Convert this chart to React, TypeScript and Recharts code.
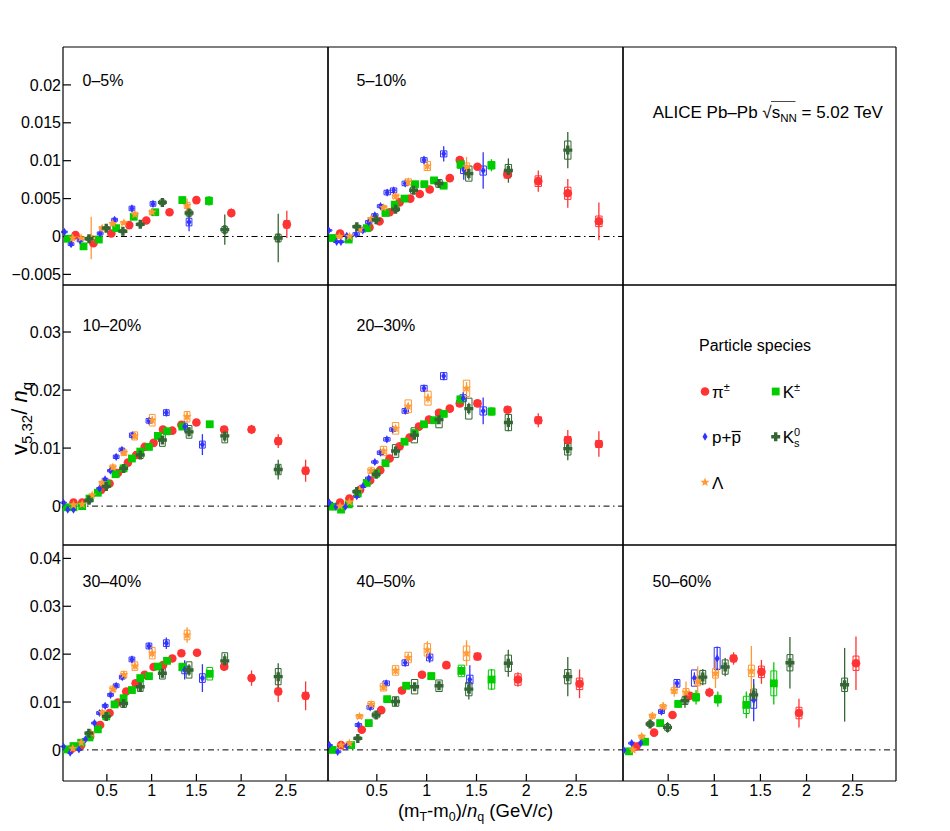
import React from 'react';
import { ScatterChart, Scatter, XAxis, YAxis, ErrorBar, ReferenceLine, ReferenceArea, Legend } from 'recharts';

// each point: [x, value, stat. error, syst. error]
type Pt = [number, number, number, number];

// ---------- 0-5% ----------
const PI_A: Pt[] = [[0.15,0.0002,0.0004,0.0002],[0.35,-0.0009,0.0004,0.0002],[0.55,0.0004,0.0003,0.0002],[0.75,0.0015,0.0003,0.0002],[0.94,0.0021,0.0003,0.0002],[1.2,0.0032,0.0003,0.0003],[1.5,0.0048,0.0003,0.0003],[1.89,0.0031,0.0006,0.0004],[2.51,0.0016,0.0018,0.0005]];
const K_A: Pt[] = [[0.063,-0.0003,0.0003,0.0002],[0.239,-0.0013,0.0004,0.0002],[0.41,-0.0004,0.0003,0.0002],[0.604,0.0011,0.0003,0.0002],[0.8,0.0026,0.0003,0.0003],[1.04,0.0032,0.0003,0.0003],[1.343,0.0048,0.0004,0.0004],[1.64,0.0047,0.0006,0.0005]];
const P_A: Pt[] = [[0.026,0.0006,0.0003,0.0001],[0.1,-0.001,0.0004,0.0002],[0.2,-0.0005,0.0003,0.0002],[0.425,0.0004,0.0003,0.0002],[0.586,0.0022,0.0003,0.0002],[0.78,0.0037,0.0004,0.0003],[1.015,0.0043,0.0004,0.0003],[1.418,0.0019,0.0012,0.0005]];
const L_A: Pt[] = [[0.119,-0.0002,0.0008,0.0002],[0.213,-0.0002,0.0004,0.0002],[0.325,-0.0002,0.0028,0.0003],[0.448,0.0011,0.0004,0.0002],[0.567,0.0017,0.0003,0.0002],[0.69,0.0018,0.0003,0.0002],[0.813,0.0029,0.0004,0.0003],[1.007,0.0032,0.0005,0.0003],[1.396,0.0041,0.0009,0.0004]];
const K0_A: Pt[] = [[0.3,-0.0003,0.0003,0.0002],[0.493,0.0011,0.0003,0.0002],[0.679,0.0007,0.0003,0.0002],[0.873,0.0016,0.0003,0.0002],[1.12,0.0045,0.0004,0.0003],[1.418,0.0031,0.0005,0.0004],[1.817,0.0009,0.002,0.0004],[2.414,-0.0002,0.0032,0.0005]];

// ---------- 5-10% ----------
const PI_B: Pt[] = [[0.131,0.0004,0.0003,0.0002],[0.426,0.0012,0.0003,0.0002],[0.527,0.002,0.0003,0.0002],[0.628,0.0032,0.0003,0.0002],[0.728,0.0045,0.0003,0.0002],[0.836,0.005,0.0003,0.0002],[0.93,0.0056,0.0003,0.0003],[1.03,0.0062,0.0003,0.0003],[1.232,0.0077,0.0003,0.0003],[1.332,0.0101,0.0003,0.0003],[1.51,0.0092,0.0004,0.0003],[1.81,0.0082,0.0006,0.0005],[2.12,0.0073,0.0014,0.0007],[2.416,0.0057,0.0019,0.0008],[2.728,0.002,0.0025,0.0007]];
const K_B: Pt[] = [[0.057,-0.0002,0.0003,0.0002],[0.218,-0.0004,0.0003,0.0002],[0.4,0.0011,0.0003,0.0002],[0.587,0.0031,0.0003,0.0002],[0.68,0.0042,0.0003,0.0002],[0.778,0.005,0.0003,0.0002],[0.883,0.0069,0.0003,0.0003],[0.977,0.0069,0.0003,0.0003],[1.074,0.0074,0.0003,0.0003],[1.17,0.0067,0.0004,0.0003],[1.34,0.0095,0.0004,0.0005],[1.65,0.0094,0.0008,0.0005]];
const P_B: Pt[] = [[0.017,0.0008,0.0003,0.0001],[0.097,-0.0007,0.0003,0.0001],[0.14,-0.0007,0.0003,0.0001],[0.198,0.0001,0.0003,0.0001],[0.292,0.0003,0.0003,0.0002],[0.359,0.0008,0.0003,0.0002],[0.419,0.0019,0.0003,0.0002],[0.48,0.0028,0.0003,0.0002],[0.537,0.004,0.0003,0.0002],[0.604,0.0058,0.0004,0.0003],[0.668,0.0061,0.0004,0.0003],[0.785,0.007,0.0004,0.0003],[0.973,0.0101,0.0005,0.0003],[1.171,0.0109,0.001,0.0004],[1.372,0.0088,0.0013,0.0005],[1.567,0.0087,0.0024,0.0006]];
const L_B: Pt[] = [[0.124,0,0.0003,0.0002],[0.225,0,0.0003,0.0002],[0.332,0.001,0.0004,0.0002],[0.443,0.0023,0.0004,0.0002],[0.567,0.0038,0.0004,0.0003],[0.688,0.0053,0.0004,0.0003],[0.815,0.0072,0.0005,0.0004],[1.007,0.0093,0.0006,0.0006],[1.4,0.0092,0.0013,0.0005]];
const K0_B: Pt[] = [[0.299,0.0013,0.0003,0.0002],[0.493,0.0022,0.0003,0.0002],[0.688,0.0036,0.0004,0.0003],[0.869,0.0061,0.0004,0.0004],[1.124,0.007,0.0005,0.0005],[1.423,0.0083,0.0008,0.001],[1.82,0.0087,0.0016,0.0008],[2.416,0.0114,0.0024,0.0012]];

// ---------- 10-20% ----------
const PI_C: Pt[] = [[0.127,0.0006,0.0003,0.0002],[0.224,0.0006,0.0003,0.0002],[0.437,0.0028,0.0003,0.0002],[0.53,0.0039,0.0003,0.0002],[0.623,0.0057,0.0003,0.0003],[0.735,0.0075,0.0003,0.0003],[0.828,0.0088,0.0003,0.0003],[0.922,0.0102,0.0003,0.0003],[1.022,0.0109,0.0003,0.0004],[1.127,0.0132,0.0003,0.0004],[1.231,0.013,0.0004,0.0004],[1.332,0.014,0.0004,0.0004],[1.5,0.0144,0.0005,0.0004],[1.81,0.0132,0.0006,0.0005],[2.116,0.0132,0.0008,0.0005],[2.414,0.0112,0.0012,0.0006],[2.72,0.0061,0.0019,0.0006]];
const K_C: Pt[] = [[0.037,-0.0002,0.0003,0.0001],[0.127,-0.0002,0.0003,0.0001],[0.224,0,0.0003,0.0002],[0.306,0.0013,0.0003,0.0002],[0.399,0.0023,0.0003,0.0002],[0.5,0.0038,0.0003,0.0002],[0.597,0.0055,0.0003,0.0003],[0.687,0.0065,0.0003,0.0003],[0.78,0.0082,0.0003,0.0003],[0.873,0.0094,0.0003,0.0003],[0.97,0.0102,0.0003,0.0004],[1.07,0.0121,0.0004,0.0004],[1.172,0.0129,0.0004,0.0004],[1.343,0.0137,0.0004,0.0005],[1.649,0.0141,0.0005,0.0005]];
const P_C: Pt[] = [[0.015,0.0006,0.0003,0.0001],[0.063,-0.0006,0.0003,0.0001],[0.127,-0.0006,0.0003,0.0001],[0.313,0.001,0.0003,0.0002],[0.418,0.003,0.0003,0.0002],[0.48,0.0046,0.0003,0.0002],[0.54,0.0061,0.0004,0.0002],[0.604,0.0085,0.0004,0.0003],[0.668,0.0097,0.0004,0.0003],[0.784,0.0122,0.0005,0.0004],[0.97,0.0147,0.0005,0.0004],[1.164,0.0161,0.0006,0.0005],[1.369,0.0137,0.0009,0.0005],[1.567,0.0106,0.0018,0.0006]];
const L_C: Pt[] = [[0.127,0.0002,0.0003,0.0002],[0.224,0.0003,0.0003,0.0002],[0.336,0.0019,0.0003,0.0002],[0.448,0.004,0.0004,0.0003],[0.567,0.0067,0.0004,0.0004],[0.69,0.0092,0.0005,0.0005],[0.81,0.0121,0.0006,0.0007],[1.007,0.0148,0.0007,0.001],[1.396,0.0154,0.001,0.0009]];
const K0_C: Pt[] = [[0.299,0.001,0.0003,0.0002],[0.493,0.0034,0.0003,0.0003],[0.687,0.0065,0.0004,0.0004],[0.873,0.0088,0.0004,0.0006],[1.12,0.0114,0.0006,0.0011],[1.418,0.0128,0.0008,0.0011],[1.817,0.0121,0.001,0.0012],[2.414,0.0063,0.0017,0.0009]];

// ---------- 20-30% ----------
const PI_D: Pt[] = [[0.131,0.0006,0.0003,0.0002],[0.225,0.0013,0.0003,0.0002],[0.332,0.0028,0.0003,0.0002],[0.433,0.0044,0.0003,0.0002],[0.534,0.0062,0.0003,0.0003],[0.628,0.0082,0.0003,0.0003],[0.728,0.0103,0.0003,0.0003],[0.829,0.0118,0.0003,0.0003],[0.923,0.0137,0.0003,0.0004],[1.023,0.0149,0.0003,0.0004],[1.124,0.0161,0.0004,0.0004],[1.232,0.0168,0.0004,0.0004],[1.332,0.0177,0.0004,0.0005],[1.51,0.0177,0.0005,0.0005],[1.812,0.0166,0.0006,0.0005],[2.12,0.0148,0.0012,0.0006],[2.416,0.0114,0.0017,0.0006],[2.728,0.0107,0.0022,0.0006]];
const K_D: Pt[] = [[0.057,-0.0001,0.0003,0.0001],[0.141,-0.0006,0.0003,0.0001],[0.218,0.0003,0.0003,0.0002],[0.309,0.0022,0.0003,0.0002],[0.399,0.004,0.0003,0.0002],[0.493,0.0057,0.0003,0.0003],[0.587,0.0074,0.0003,0.0003],[0.778,0.0111,0.0003,0.0003],[0.879,0.0126,0.0004,0.0004],[0.973,0.0141,0.0004,0.0004],[1.074,0.0148,0.0004,0.0004],[1.171,0.0159,0.0004,0.0005],[1.339,0.0184,0.0005,0.0005],[1.651,0.0163,0.0007,0.0006]];
const P_D: Pt[] = [[0.023,0.0006,0.0003,0.0001],[0.09,-0.0001,0.0003,0.0001],[0.185,-0.0001,0.0003,0.0001],[0.299,0.0017,0.0003,0.0002],[0.359,0.0034,0.0003,0.0002],[0.419,0.0048,0.0003,0.0002],[0.48,0.0076,0.0004,0.0002],[0.537,0.0092,0.0004,0.0003],[0.601,0.0115,0.0004,0.0003],[0.661,0.0132,0.0004,0.0003],[0.785,0.0164,0.0005,0.0004],[0.973,0.0203,0.0006,0.0005],[1.171,0.0224,0.0007,0.0006],[1.366,0.0186,0.001,0.0006],[1.567,0.0164,0.0023,0.0007]];
const L_D: Pt[] = [[0.131,0,0.0003,0.0002],[0.225,0.0007,0.0003,0.0002],[0.326,0.0028,0.0004,0.0003],[0.443,0.0061,0.0004,0.0005],[0.567,0.0095,0.0005,0.0008],[0.688,0.0134,0.0005,0.001],[0.815,0.0172,0.0006,0.0011],[1.013,0.0186,0.0008,0.0012],[1.4,0.0203,0.0011,0.0014]];
const K0_D: Pt[] = [[0.299,0.0025,0.0003,0.0003],[0.493,0.0055,0.0004,0.0005],[0.688,0.0095,0.0005,0.0011],[0.876,0.0122,0.0006,0.0013],[1.124,0.0149,0.0007,0.0014],[1.423,0.0168,0.001,0.0018],[1.82,0.0144,0.0015,0.0014],[2.416,0.0099,0.002,0.0011]];

// ---------- 30-40% ----------
const PI_E: Pt[] = [[0.112,0.0003,0.0003,0.0002],[0.213,0.001,0.0003,0.0002],[0.313,0.0028,0.0003,0.0002],[0.425,0.0052,0.0003,0.0003],[0.53,0.0077,0.0003,0.0003],[0.623,0.0099,0.0003,0.0003],[0.716,0.0122,0.0003,0.0004],[0.821,0.0139,0.0003,0.0004],[0.922,0.0157,0.0004,0.0004],[1.022,0.0173,0.0004,0.0005],[1.127,0.0177,0.0004,0.0005],[1.231,0.0191,0.0004,0.0005],[1.332,0.0202,0.0005,0.0005],[1.507,0.0203,0.0006,0.0005],[1.81,0.0174,0.0008,0.0006],[2.116,0.015,0.0016,0.0006],[2.414,0.0122,0.0022,0.0007],[2.72,0.0113,0.003,0.0007]];
const K_E: Pt[] = [[0.037,0.0001,0.0003,0.0001],[0.127,0.0008,0.0003,0.0002],[0.213,0.0015,0.0003,0.0002],[0.306,0.0026,0.0003,0.0002],[0.399,0.0043,0.0003,0.0003],[0.493,0.007,0.0003,0.0003],[0.586,0.0095,0.0003,0.0004],[0.687,0.0108,0.0004,0.0004],[0.78,0.0125,0.0004,0.0005],[0.873,0.015,0.0004,0.0005],[0.97,0.0154,0.0004,0.0005],[1.071,0.0174,0.0005,0.0006],[1.172,0.0186,0.0005,0.0006],[1.343,0.0173,0.0006,0.0008],[1.649,0.0159,0.0008,0.0013]];
const P_E: Pt[] = [[0.015,0.0007,0.0003,0.0001],[0.09,-0.0006,0.0003,0.0001],[0.187,0.0001,0.0003,0.0002],[0.261,0.0022,0.0003,0.0002],[0.362,0.0056,0.0004,0.0002],[0.418,0.0077,0.0004,0.0003],[0.481,0.0092,0.0004,0.0003],[0.541,0.0115,0.0004,0.0003],[0.604,0.0134,0.0005,0.0004],[0.672,0.0152,0.0005,0.0004],[0.78,0.0189,0.0006,0.0005],[0.97,0.0217,0.0007,0.0006],[1.164,0.0223,0.0012,0.0007],[1.369,0.0167,0.002,0.0008],[1.567,0.015,0.0029,0.0009]];
const L_E: Pt[] = [[0.119,0.0003,0.0003,0.0002],[0.213,0.0015,0.0003,0.0002],[0.325,0.0035,0.0004,0.0003],[0.448,0.0078,0.0005,0.0004],[0.567,0.0127,0.0005,0.0006],[0.69,0.0157,0.0006,0.0007],[0.813,0.0175,0.0007,0.0009],[1.007,0.0202,0.0009,0.0012],[1.396,0.024,0.0016,0.001]];
const K0_E: Pt[] = [[0.299,0.0035,0.0004,0.0003],[0.493,0.007,0.0005,0.0005],[0.687,0.0097,0.0006,0.0008],[0.873,0.0132,0.0007,0.001],[1.12,0.016,0.0009,0.0012],[1.418,0.0167,0.0012,0.0017],[1.817,0.0186,0.0015,0.0017],[2.414,0.0153,0.0028,0.0017]];

// ---------- 40-50% ----------
const PI_F: Pt[] = [[0.141,0.001,0.0003,0.0002],[0.349,0.0042,0.0004,0.0003],[0.544,0.0083,0.0004,0.0004],[0.752,0.0124,0.0005,0.0005],[0.953,0.0157,0.0005,0.0005],[1.198,0.0177,0.0006,0.0006],[1.51,0.0195,0.0008,0.0007],[1.916,0.0147,0.0015,0.0012],[2.534,0.0138,0.003,0.0012]];
const K_F: Pt[] = [[0.057,0,0.0003,0.0002],[0.242,0.001,0.0003,0.0002],[0.419,0.0056,0.0004,0.0003],[0.604,0.0106,0.0005,0.0005],[0.795,0.0134,0.0006,0.0006],[1.047,0.0154,0.0007,0.0007],[1.349,0.0165,0.001,0.0012],[1.651,0.0147,0.0022,0.002]];
const P_F: Pt[] = [[0.023,0.001,0.0003,0.0001],[0.107,-0.0004,0.0003,0.0002],[0.198,0.0008,0.0003,0.0002],[0.315,0.0052,0.0004,0.0003],[0.433,0.0089,0.0005,0.0004],[0.594,0.0139,0.0006,0.0005],[0.785,0.0182,0.0008,0.0006],[1.03,0.0193,0.0011,0.0007],[1.433,0.0147,0.003,0.0009]];
const L_F: Pt[] = [[0.141,0.001,0.0003,0.0002],[0.225,0.0014,0.0004,0.0002],[0.326,0.007,0.0005,0.0004],[0.443,0.0095,0.0006,0.0006],[0.567,0.0131,0.0007,0.0008],[0.688,0.0166,0.0008,0.001],[0.815,0.0193,0.0009,0.0011],[1.007,0.0209,0.0018,0.0013],[1.4,0.0202,0.0027,0.0015]];
const K0_F: Pt[] = [[0.309,0.0024,0.0004,0.0003],[0.493,0.0073,0.0005,0.0006],[0.688,0.0101,0.0007,0.001],[0.879,0.0132,0.0008,0.0015],[1.124,0.0134,0.0009,0.0012],[1.423,0.0127,0.0022,0.0014],[1.819,0.0181,0.0028,0.0017],[2.416,0.0153,0.0041,0.0015]];

// ---------- 50-60% ----------
const PI_G: Pt[] = [[0.155,0.0007,0.0004,0.0002],[0.347,0.0036,0.0005,0.0003],[0.547,0.0073,0.0006,0.0004],[0.736,0.0113,0.0007,0.0005],[0.947,0.012,0.001,0.0006],[1.209,0.0191,0.0013,0.0007],[1.511,0.0163,0.0025,0.0012],[1.918,0.0077,0.003,0.0012],[2.536,0.0181,0.0056,0.0015]];
const K_G: Pt[] = [[0.075,-0.0003,0.0003,0.0002],[0.249,0.0017,0.0005,0.0003],[0.413,0.0056,0.0006,0.0004],[0.609,0.0096,0.0008,0.0006],[0.802,0.011,0.0015,0.0008],[1.038,0.0106,0.0016,0.0008],[1.347,0.0094,0.0028,0.0018],[1.645,0.0139,0.0044,0.0026]];
const P_G: Pt[] = [[0.02,-0.0001,0.0003,0.0001],[0.104,0.0014,0.0004,0.0002],[0.202,0.0014,0.0004,0.0002],[0.427,0.008,0.0006,0.0004],[0.595,0.0139,0.0008,0.0008],[0.784,0.015,0.0012,0.0017],[1.031,0.0191,0.0025,0.0023],[1.427,0.0104,0.0044,0.0017]];
const L_G: Pt[] = [[0.118,0,0.0004,0.0002],[0.213,0.0028,0.0006,0.0003],[0.329,0.0071,0.0008,0.0004],[0.445,0.009,0.001,0.0005],[0.565,0.0124,0.0013,0.0006],[0.693,0.012,0.0023,0.0008],[0.82,0.0143,0.0031,0.0009],[1.013,0.016,0.0031,0.001],[1.402,0.0165,0.0052,0.0012]];
const K0_G: Pt[] = [[0.304,0.0054,0.0009,0.0005],[0.493,0.0047,0.0011,0.0006],[0.682,0.0103,0.0015,0.0008],[0.875,0.0152,0.0017,0.0014],[1.118,0.0173,0.0019,0.0015],[1.427,0.0115,0.0023,0.0012],[1.82,0.0182,0.0054,0.0017],[2.413,0.0136,0.0077,0.0014]];

// ---------- axes ----------
const X_DOMAIN: [number, number] = [0.01, 2.97];
const X_TICKS = [0.5, 1, 1.5, 2, 2.5];
const Y_TICKS_1 = [-0.005, 0, 0.005, 0.01, 0.015, 0.02];
const Y_TICKS_2 = [0, 0.01, 0.02, 0.03];
const Y_TICKS_3 = [0, 0.01, 0.02, 0.03, 0.04];
const Y_DOMAIN_1: [number, number] = [-0.0064, 0.025];
const Y_DOMAIN_2: [number, number] = [-0.0067, 0.0381];
const Y_DOMAIN_3: [number, number] = [-0.0065, 0.0428];

const CENTRALITIES = ['0–5%', '5–10%', '10–20%', '20–30%', '30–40%', '40–50%', '50–60%'];

// ---------- layout / style ----------
const FONT = '"Liberation Sans", Arial, Helvetica, sans-serif';
const COLS = [{ l: 63, w: 265 }, { l: 328, w: 295 }, { l: 623, w: 273 }];
const ROWS = [
  { t: 47, h: 238, domain: Y_DOMAIN_1, ticks: Y_TICKS_1 },
  { t: 285, h: 260, domain: Y_DOMAIN_2, ticks: Y_TICKS_2 },
  { t: 545, h: 236, domain: Y_DOMAIN_3, ticks: Y_TICKS_3 },
];
const BOX_HW = 0.032;

type Kind = 'circle' | 'square' | 'diamond' | 'star' | 'cross';
const SPECIES: { name: string; color: string; kind: Kind }[] = [
  { name: 'π±', color: '#ff3333', kind: 'circle' },
  { name: 'K±', color: '#00cc00', kind: 'square' },
  { name: 'p+p̄', color: '#3333ff', kind: 'diamond' },
  { name: 'Λ', color: '#ff9933', kind: 'star' },
  { name: 'K0s', color: '#336633', kind: 'cross' },
];

const PANELS = [
  { row: 0, col: 0, label: 0, lx: 82.5, ly: 86, sets: [PI_A, K_A, P_A, L_A, K0_A] },
  { row: 0, col: 1, label: 1, lx: 356.5, ly: 86, sets: [PI_B, K_B, P_B, L_B, K0_B] },
  { row: 1, col: 0, label: 2, lx: 82.5, ly: 331, sets: [PI_C, K_C, P_C, L_C, K0_C] },
  { row: 1, col: 1, label: 3, lx: 356.5, ly: 331, sets: [PI_D, K_D, P_D, L_D, K0_D] },
  { row: 2, col: 0, label: 4, lx: 82.5, ly: 586.5, sets: [PI_E, K_E, P_E, L_E, K0_E] },
  { row: 2, col: 1, label: 5, lx: 356.5, ly: 586.5, sets: [PI_F, K_F, P_F, L_F, K0_F] },
  { row: 2, col: 2, label: 6, lx: 652.5, ly: 586.5, sets: [PI_G, K_G, P_G, L_G, K0_G] },
];

const toObj = (pts: Pt[]) => pts.map(([x, y, e, s]) => ({ x, y, e, s }));
const fmt = (v: number) => (v < 0 ? '−' + String(-v) : String(v));

function Marker({ kind, color, cx, cy }: { kind: Kind; color: string; cx: number; cy: number }) {
  if (cx == null || cy == null || isNaN(cx) || isNaN(cy)) return null;
  switch (kind) {
    case 'circle':
      return <circle cx={cx} cy={cy} r={4.3} fill={color} />;
    case 'square':
      return <rect x={cx - 3.9} y={cy - 3.9} width={7.8} height={7.8} fill={color} />;
    case 'diamond':
      return <polygon points={`${cx},${cy - 4.1} ${cx + 2.5},${cy} ${cx},${cy + 4.1} ${cx - 2.5},${cy}`} fill={color} />;
    case 'star': {
      const pts: string[] = [];
      for (let i = 0; i < 10; i++) {
        const a = (-90 + i * 36) * Math.PI / 180;
        const r = i % 2 === 0 ? 4.7 : 2.0;
        pts.push(`${cx + r * Math.cos(a)},${cy + r * Math.sin(a)}`);
      }
      return <polygon points={pts.join(' ')} fill={color} />;
    }
    case 'cross': {
      const a = 4.5, b = 1.7;
      const p = [[-b, -a], [b, -a], [b, -b], [a, -b], [a, b], [b, b], [b, a], [-b, a], [-b, b], [-a, b], [-a, -b], [-b, -b]];
      return <polygon points={p.map(([dx, dy]) => `${cx + dx},${cy + dy}`).join(' ')} fill={color} />;
    }
  }
  return null;
}

const AXIS_LINE = { stroke: '#000', strokeWidth: 1.2 };
const TICK_LINE = { stroke: '#000', strokeWidth: 1.2 };
const TICK_STYLE = { fontSize: 16, fill: '#000', fontFamily: FONT };

function Panel({ row, col, sets }: { row: number; col: number; sets?: Pt[][] }) {
  const c = COLS[col];
  const r = ROWS[row];
  const wl = col === 0 ? 62 : 1;
  const hb = row === 2 ? 34 : 1;
  return (
    <div style={{ position: 'absolute', left: c.l - wl, top: r.t - 1 }}>
      <ScatterChart width={wl + c.w + 1} height={r.h + hb + 1} margin={{ top: 0, right: 0, bottom: 0, left: 0 }}>
        <XAxis xAxisId="b" type="number" dataKey="x" domain={X_DOMAIN} ticks={X_TICKS} interval={0} allowDataOverflow
          orientation="bottom" height={hb} tick={row === 2 ? TICK_STYLE : false} tickSize={-7} tickMargin={11}
          axisLine={AXIS_LINE} tickLine={TICK_LINE} />
        <XAxis xAxisId="t" type="number" domain={X_DOMAIN} ticks={X_TICKS} interval={0} allowDataOverflow
          orientation="top" height={1} tick={false} tickSize={-7} axisLine={AXIS_LINE} tickLine={TICK_LINE} />
        <YAxis yAxisId="l" type="number" dataKey="y" domain={r.domain} ticks={r.ticks} interval={0} allowDataOverflow
          orientation="left" width={wl} tick={col === 0 ? TICK_STYLE : false} tickSize={-8} tickMargin={10}
          tickFormatter={fmt} axisLine={AXIS_LINE} tickLine={TICK_LINE} />
        <YAxis yAxisId="r" type="number" domain={r.domain} ticks={r.ticks} interval={0} allowDataOverflow
          orientation="right" width={1} tick={false} tickSize={-8} axisLine={AXIS_LINE} tickLine={TICK_LINE} />
        {sets && (
          <ReferenceLine xAxisId="b" yAxisId="l" y={0} stroke="#000" strokeWidth={1} strokeDasharray="6 3.5 1.5 3.5" />
        )}
        {sets && sets.map((pts, si) =>
          pts.map(([x, y, , s], i) => (
            <ReferenceArea key={`box-${si}-${i}`} xAxisId="b" yAxisId="l" x1={x - BOX_HW} x2={x + BOX_HW}
              y1={y - s} y2={y + s} fill="none" fillOpacity={0} stroke={SPECIES[si].color} strokeWidth={1}
              ifOverflow="visible" />
          ))
        )}
        {sets && sets.map((pts, si) => {
          const sp = SPECIES[si];
          return (
            <Scatter key={`s-${si}`} name={sp.name} xAxisId="b" yAxisId="l" data={toObj(pts)} fill={sp.color}
              isAnimationActive={false}
              shape={(p: any) => <Marker kind={sp.kind} color={sp.color} cx={p.cx} cy={p.cy} />}>
              <ErrorBar dataKey="e" direction="y" width={0} stroke={sp.color} strokeWidth={1.3} />
            </Scatter>
          );
        })}
      </ScatterChart>
    </div>
  );
}

// legend grid (relative to the legend panel); cells follow SPECIES order: π, K±, p, Λ, K0s
const LEGEND_COLS = [82, 152.7];
const LEGEND_ROWS = [106.5, 151.7, 197.3];
const LEGEND_CELLS = [[0, 0], [1, 0], [0, 1], [0, 2], [1, 1]];

function LegendBox() {
  const fs = 17;
  const label = (i: number, x: number, y: number) => {
    switch (i) {
      case 0:
        return <text x={x} y={y} fontSize={fs}>π<tspan dy={-7} fontSize={11}>±</tspan></text>;
      case 1:
        return <text x={x} y={y} fontSize={fs}>K<tspan dy={-7} fontSize={11}>±</tspan></text>;
      case 2:
        return (
          <g>
            <text x={x} y={y} fontSize={fs}>p+p</text>
            <line x1={x + 19.6} x2={x + 28.8} y1={y - 11.5} y2={y - 11.5} stroke="#000" strokeWidth={1.2} />
          </g>
        );
      case 3:
        return <text x={x} y={y} fontSize={fs}>Λ</text>;
      default:
        return <text x={x} y={y} fontSize={fs}>K<tspan dy={-7.5} fontSize={11}>0</tspan><tspan dx={-6.1} dy={11.5} fontSize={11}>s</tspan></text>;
    }
  };
  return (
    <svg width={273} height={260} style={{ fontFamily: FONT, display: 'block' }}>
      <text x={76} y={66} fontSize={16}>Particle species</text>
      {SPECIES.map((sp, i) => {
        const [cI, rI] = LEGEND_CELLS[i];
        const mx = LEGEND_COLS[cI];
        const my = LEGEND_ROWS[rI];
        return (
          <g key={i}>
            <Marker kind={sp.kind} color={sp.color} cx={mx} cy={my} />
            {label(i, mx + 7, my + 6.3)}
          </g>
        );
      })}
    </svg>
  );
}

export default function App() {
  return (
    <div style={{ position: 'absolute', left: 0, top: 0, width: 950, height: 831, background: '#fff', fontFamily: FONT }}>
      {PANELS.map((p, i) => (
        <Panel key={i} row={p.row} col={p.col} sets={p.sets} />
      ))}
      <Panel row={0} col={2} />
      <Panel row={1} col={2} />
      <div style={{ position: 'absolute', left: COLS[2].l, top: ROWS[1].t }}>
        <ScatterChart width={273} height={260} margin={{ top: 0, right: 0, bottom: 0, left: 0 }}>
          {SPECIES.map((sp, i) => (
            <Scatter key={i} name={sp.name} data={[]} fill={sp.color} isAnimationActive={false} />
          ))}
          <Legend layout="vertical" align="center" verticalAlign="middle"
            wrapperStyle={{ left: 0, top: 0, width: 273, height: 260 }}
            content={() => <LegendBox />} />
        </ScatterChart>
      </div>
      <svg width={950} height={831} style={{ position: 'absolute', left: 0, top: 0, pointerEvents: 'none', fontFamily: FONT }}>
        {PANELS.map((p, i) => (
          <text key={i} x={p.lx} y={p.ly} fontSize={16}>{CENTRALITIES[p.label]}</text>
        ))}
        <text x={652.7} y={117.5} fontSize={17}>
          {'ALICE Pb–Pb √'}<tspan>s</tspan><tspan dy={4} fontSize={11.5}>NN</tspan><tspan dy={-4}>{' = 5.02 TeV'}</tspan>
        </text>
        <line x1={771} x2={795.5} y1={101.5} y2={101.5} stroke="#000" strokeWidth={0.7} />
        <text x={475.5} y={817} textAnchor="middle" fontSize={18.5}>
          {'(m'}<tspan dy={4} fontSize={12.5}>T</tspan><tspan dy={-4}>{'-m'}</tspan><tspan dy={4} fontSize={12.5}>0</tspan>
          <tspan dy={-4}>{')/'}</tspan><tspan fontStyle="italic">n</tspan><tspan dy={4} fontSize={12.5}>q</tspan>
          <tspan dy={-4}>{' (GeV/'}</tspan><tspan fontStyle="italic">c</tspan><tspan>)</tspan>
        </text>
        <text transform="translate(26.5,418.5) rotate(-90)" textAnchor="middle" fontSize={22}>
          {'v'}<tspan dy={5} fontSize={15}>5,32</tspan><tspan dy={-5}>{'/ '}</tspan><tspan fontStyle="italic">n</tspan>
          <tspan dy={5} fontSize={15}>q</tspan>
        </text>
      </svg>
    </div>
  );
}
